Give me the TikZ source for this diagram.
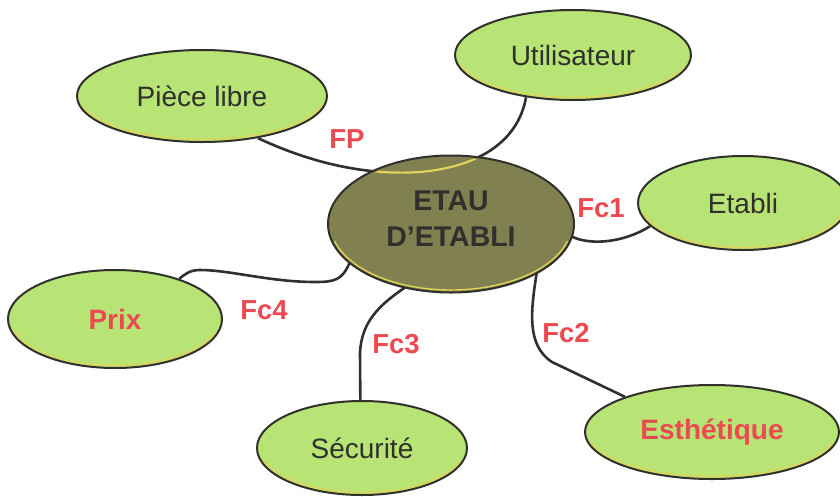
\documentclass[tikz,border=0pt]{standalone}
\usepackage{fontspec}
\setmainfont{Liberation Sans}
\usetikzlibrary{shapes.geometric}
\definecolor{leaf}{RGB}{184,228,118}
\definecolor{olive}{RGB}{128,128,80}
\definecolor{ink}{RGB}{48,48,44}
\definecolor{lbl}{RGB}{236,74,82}
\definecolor{hilite}{RGB}{225,210,90}
\tikzset{
  bubble/.style={ellipse, draw=ink, line width=2pt, fill=leaf, inner sep=0pt,
    text=ink, font=\fontsize{28}{32}\selectfont},
  core/.style={ellipse, draw=ink, line width=2pt, fill=olive, inner sep=0pt,
    text=ink, font=\fontsize{28.5}{36}\selectfont\bfseries, align=center},
  link/.style={draw=ink, line width=2.6pt},
  fnlabel/.style={text=lbl, font=\fontsize{27.5}{32}\selectfont\bfseries, inner sep=0pt},
  redtext/.style={text=lbl, font=\fontsize{28}{32}\selectfont\bfseries},
  shinestyle/.style={draw=hilite, line width=1.4pt}
}
\newcommand\shine[4]{\path[shinestyle] (#1,#2) ++(15:#3 and #4) arc[start angle=15, end angle=165, x radius=#3, y radius=#4];}
\begin{document}
\begin{tikzpicture}[x=1pt,y=-1pt]
\useasboundingbox (0,0) rectangle (840,496);
\fill[white] (0,0) rectangle (840,496);

% outer bubbles
\node[bubble, minimum width=250pt, minimum height=92pt] (pl) at (202,96) {Pièce libre};
\shine{202}{96}{122.5}{43.5}
\node[bubble, minimum width=236pt, minimum height=90pt] (ut) at (573,55) {Utilisateur};
\shine{573}{55}{115.5}{42.5}
\node[bubble, minimum width=210pt, minimum height=94pt] (et) at (743,203) {Etabli};
\shine{743}{203}{102.5}{44.5}
\node[bubble, minimum width=254pt, minimum height=94pt] (es) at (712,432) {};
\shine{712}{432}{124.5}{44.5}
\node[redtext] at (es.center) {Esthétique};
\node[bubble, minimum width=210pt, minimum height=94pt] (se) at (362,448) {Sécurité};
\shine{362}{448}{102.5}{44.5}
\node[bubble, minimum width=214pt, minimum height=98pt] (pr) at (115,319) {};
\shine{115}{319}{104.5}{46.5}
\node[redtext] at (pr.center) {Prix};

% central node geometry (drawn later)
\coordinate (cc) at (451,224);
\node[ellipse, minimum width=246pt, minimum height=137pt, inner sep=0pt] (c) at (cc) {};

% connectors
\def\fppath{(pl.-37) .. controls (305,160) and (360,176) .. (420,172) .. controls (478,167) and (518,142) .. (ut.-138)}
\path[link] \fppath;
\path[link] (c.-6) .. controls (592,246) and (625,242) .. (et.-166);
\path[link] (c.-30) .. controls (531,310) and (526,345) .. (552,362) -- (es.158);
\path[link] (c.-126) .. controls (378,306) and (362,322) .. (360,352) -- (se.92);
\path[link] (c.-159) .. controls (342,280) and (335,282) .. (315,282) .. controls (270,282) and (230,270) .. (200,270) .. controls (190,270) and (185,274) .. (pr.32);

% central bubble
\node[core, minimum width=246pt, minimum height=137pt, fill=olive] (core) at (cc) {};
\shine{451}{224}{120.5}{66}
\begin{scope}
  \clip (cc) ellipse [x radius=121, y radius=66.5];
  \path[draw=hilite, line width=2.2pt] \fppath;
\end{scope}
\node[core, draw=none, fill=none] (coretext) at (451,219) {ETAU\\D’ETABLI};

% labels
\node[fnlabel] (lfp) at (347,139) {FP};
\node[fnlabel] (lf1) at (601,208) {Fc1};
\node[fnlabel] (lf2) at (566,333) {Fc2};
\node[fnlabel] (lf3) at (396,344) {Fc3};
\node[fnlabel] (lf4) at (264,310) {Fc4};
\end{tikzpicture}
\end{document}
